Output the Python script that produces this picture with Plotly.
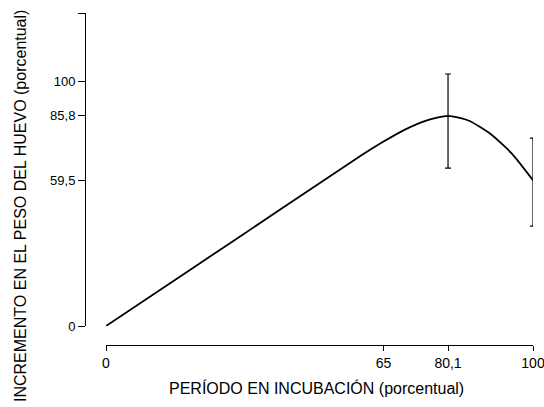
import plotly.graph_objects as go

# Data
x_curve = [0, 20, 40, 60, 65, 70, 75, 80.1, 85, 90, 95, 100]
y_curve = [0, 23.3, 46.6, 69.9, 75.3, 80.2, 83.9, 85.8, 83.8, 78.5, 70.5, 59.5]

x_err = [80.1, 100]
y_err = [85.8, 59.5]
err_plus = [17.1, 17.2]
err_minus = [21.3, 18.7]

x_ticks = [0, 65, 80.1, 100]
x_ticktext = ["0", "65", "80,1", "100"]
y_ticks = [0, 59.5, 85.8, 100, 127.8]
y_ticktext = ["0", "59,5", "85,8", "100", ""]

FONT = "Liberation Sans, Arial, sans-serif"

fig = go.Figure()
fig.add_trace(go.Scatter(
    x=x_curve, y=y_curve, mode="lines",
    line=dict(color="black", width=1.8, shape="spline", smoothing=0.6),
    cliponaxis=False, hoverinfo="skip", showlegend=False))
fig.add_trace(go.Scatter(
    x=x_err, y=y_err, mode="markers",
    marker=dict(size=1, color="black", opacity=0),
    error_y=dict(type="data", symmetric=False, array=err_plus, arrayminus=err_minus,
                 color="black", thickness=1.2, width=3),
    cliponaxis=False, hoverinfo="skip", showlegend=False))

W, H = 544, 407
ml, mr, mt, mb = 85, 11, 13, 62
pw = W - ml - mr
ph = H - mt - mb

fig.update_layout(
    width=W, height=H,
    margin=dict(l=ml, r=mr, t=mt, b=mb, pad=0, autoexpand=False),
    paper_bgcolor="white", plot_bgcolor="white",
    font=dict(family=FONT, size=13, color="black"),
    xaxis=dict(
        domain=[(106 - ml) / pw, 1], range=[0, 100],
        anchor="free", position=0, automargin=False,
        showline=True, linecolor="black", linewidth=1,
        showgrid=False, zeroline=False,
        tickmode="array", tickvals=x_ticks, ticktext=x_ticktext,
        ticks="outside", ticklen=5, tickcolor="black", tickwidth=1,
        ticklabeloverflow="allow",
        tickfont=dict(family=FONT, size=14, color="black"),
    ),
    yaxis=dict(
        domain=[(345 - 326) / ph, 1], range=[0, 127.8],
        anchor="free", position=0, automargin=False,
        showline=True, linecolor="black", linewidth=1,
        showgrid=False, zeroline=False,
        tickmode="array", tickvals=y_ticks, ticktext=y_ticktext,
        ticks="outside", ticklen=7, tickcolor="black", tickwidth=1,
        tickfont=dict(family=FONT, size=13, color="black"),
    ),
    annotations=[
        dict(text="PERÍODO EN INCUBACIÓN (porcentual)", xref="paper", yref="paper",
             x=(316 - ml) / pw, y=(345 - 388) / ph, xanchor="center", yanchor="middle",
             showarrow=False, font=dict(family=FONT, size=16, color="black")),
        dict(text="INCREMENTO EN EL PESO DEL HUEVO (porcentual)", xref="paper", yref="paper",
             x=(20 - ml) / pw, y=(345 - 206) / ph, xanchor="center", yanchor="middle",
             textangle=-90, showarrow=False,
             font=dict(family=FONT, size=16, color="black")),
    ],
)

fig.write_html("out.html")
